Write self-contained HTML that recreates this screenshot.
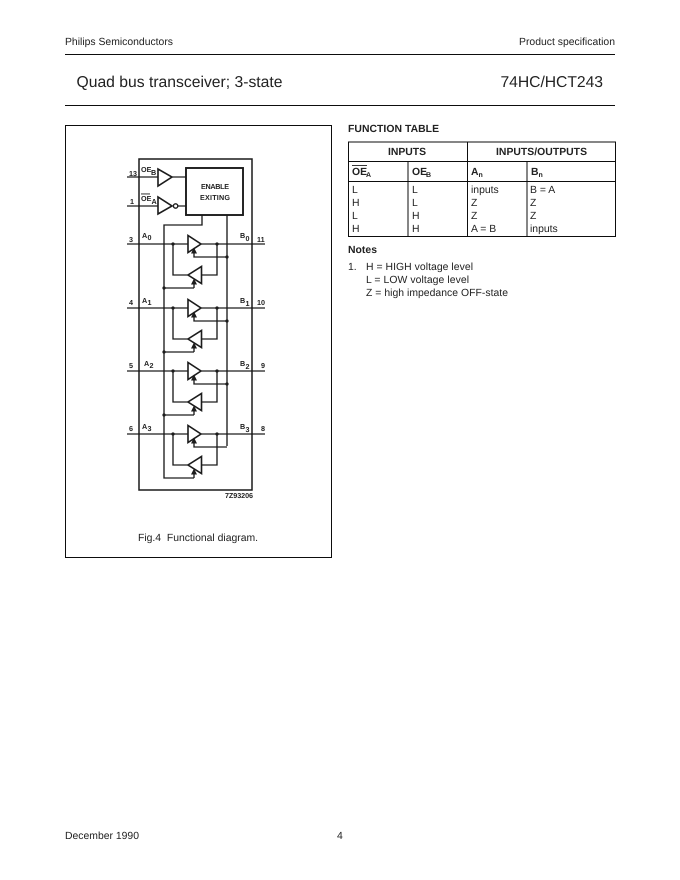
<!DOCTYPE html>
<html>
<head>
<meta charset="utf-8">
<style>
html,body{margin:0;padding:0;background:#fff}
svg{display:block}
text{font-family:"Liberation Sans",sans-serif;fill:#222;text-rendering:geometricPrecision}
.s{font-size:10.4px}
.b{font-size:10.4px;font-weight:bold}
.d{font-size:7.2px;font-weight:bold;fill:#222}
.sub{font-size:7px;font-weight:bold}
</style>
</head>
<body>
<svg width="680" height="880" viewBox="0 0 680 880" xmlns="http://www.w3.org/2000/svg">
<defs>
<filter id="bl" x="-5%" y="-5%" width="110%" height="110%"><feGaussianBlur stdDeviation="0.35"/></filter>
<filter id="soft" x="0" y="0" width="100%" height="100%"><feGaussianBlur stdDeviation="0.2"/></filter>
<g id="ch" fill="none" stroke="#1a1a1a" stroke-width="1.35">
  <polygon points="188,-8.5 188,8.5 201,0" stroke-width="1.6" fill="#fff"/>
  <polygon points="201.5,22.5 201.5,39.5 188,31" stroke-width="1.6" fill="#fff"/>
  <path d="M173,0V31H188M201.5,31H217V0"/>
  <path d="M227,13H194V8"/>
  <polygon points="194,3.5 191,9.5 197,9.5" fill="#1a1a1a" stroke="none"/>
  <path d="M194,44V39"/>
  <polygon points="194,34.5 191,40.5 197,40.5" fill="#1a1a1a" stroke="none"/>
  <circle cx="173" cy="0" r="1.6" fill="#1a1a1a" stroke="none"/>
  <circle cx="217" cy="0" r="1.6" fill="#1a1a1a" stroke="none"/>
</g>
</defs>

<g filter="url(#soft)">
<!-- page header -->
<text class="s" x="65" y="45" textLength="108">Philips Semiconductors</text>
<text class="s" x="519" y="45" textLength="96">Product specification</text>
<rect x="65" y="54" width="550" height="1" fill="#111"/>
<text x="76.5" y="87" font-size="15.7" textLength="206">Quad bus transceiver; 3-state</text>
<text x="500.5" y="87" font-size="15.7" textLength="102.5">74HC/HCT243</text>
<rect x="65" y="105" width="550" height="1" fill="#111"/>

<!-- figure frame -->
<rect x="65.5" y="125.5" width="266" height="432" fill="none" stroke="#111" stroke-width="1"/>
<text class="s" x="138" y="541" textLength="120">Fig.4&#160;&#160;Functional diagram.</text>

<!-- function table -->
<text class="b" x="348" y="132" textLength="91">FUNCTION TABLE</text>
<g fill="none" stroke="#111" stroke-width="1">
  <rect x="348.5" y="142" width="267" height="94.5"/>
  <path d="M348,161.5H616M348,181.5H616"/>
  <path d="M467.5,142V237M408,161V237M527,161V237"/>
</g>
<text class="b" x="388" y="155" textLength="38">INPUTS</text>
<text class="b" x="496" y="155" textLength="91">INPUTS/OUTPUTS</text>

<text class="b" x="352" y="175">OE</text><text class="sub" x="366" y="177">A</text>
<rect x="352" y="165" width="15" height="0.9" fill="#222"/>
<text class="b" x="412" y="175">OE</text><text class="sub" x="426" y="177">B</text>
<text class="b" x="471" y="175">A</text><text class="sub" x="478.5" y="177">n</text>
<text class="b" x="531" y="175">B</text><text class="sub" x="538.5" y="177">n</text>

<text class="s" x="352" y="193">L</text><text class="s" x="352" y="206">H</text><text class="s" x="352" y="219">L</text><text class="s" x="352" y="232">H</text>
<text class="s" x="412" y="193">L</text><text class="s" x="412" y="206">L</text><text class="s" x="412" y="219">H</text><text class="s" x="412" y="232">H</text>
<text class="s" x="471" y="193">inputs</text><text class="s" x="471" y="206">Z</text><text class="s" x="471" y="219">Z</text><text class="s" x="471" y="232">A = B</text>
<text class="s" x="530" y="193">B = A</text><text class="s" x="530" y="206">Z</text><text class="s" x="530" y="219">Z</text><text class="s" x="530" y="232">inputs</text>

<!-- notes -->
<text class="b" x="348" y="253" textLength="29">Notes</text>
<text class="s" x="348" y="270">1.</text>
<text class="s" x="366" y="270" textLength="107">H = HIGH voltage level</text>
<text class="s" x="366" y="283" textLength="103">L = LOW voltage level</text>
<text class="s" x="366" y="296" textLength="142">Z = high impedance OFF-state</text>

<!-- footer -->
<text class="s" x="65" y="839" textLength="74">December 1990</text>
<text class="s" x="337" y="839">4</text>
</g>

<!-- diagram -->
<g filter="url(#bl)">
  <g fill="none" stroke="#1a1a1a" stroke-width="1.35">
    <rect x="139" y="159" width="113" height="331" stroke-width="1.5"/>
    <path d="M127,177H158M172,177H186"/>
    <path d="M127,206H158M178,206H186"/>
    <polygon points="158,169 158,186 172,177" stroke-width="1.6" fill="#fff"/>
    <polygon points="158,197 158,214 172,206" stroke-width="1.6" fill="#fff"/>
    <circle cx="175.6" cy="206" r="2.2" stroke-width="1.4" fill="#fff"/>
    <rect x="186" y="168" width="57" height="47" stroke-width="1.9" fill="#fff"/>
    <path d="M202,215V225H164V478H194"/>
    <path d="M227,215V446"/>
    <path d="M127,244H265M127,308H265M127,371H265M127,434H265"/>
    <path d="M164,288H194M164,352H194M164,415H194"/>
  </g>
  <use href="#ch" x="0" y="244"/>
  <use href="#ch" x="0" y="308"/>
  <use href="#ch" x="0" y="371"/>
  <use href="#ch" x="0" y="434"/>
  <circle cx="164" cy="288" r="1.6" fill="#1a1a1a"/>
  <circle cx="164" cy="352" r="1.6" fill="#1a1a1a"/>
  <circle cx="164" cy="415" r="1.6" fill="#1a1a1a"/>
  <circle cx="227" cy="257" r="1.6" fill="#1a1a1a"/>
  <circle cx="227" cy="321" r="1.6" fill="#1a1a1a"/>
  <circle cx="227" cy="384" r="1.6" fill="#1a1a1a"/>

  <text class="d" x="129" y="176">13</text>
  <text class="d" x="141" y="172">OE</text><text class="d" x="151" y="175">B</text>
  <text class="d" x="130" y="204">1</text>
  <text class="d" x="141" y="201">OE</text><text class="d" x="151.5" y="204">A</text>
  <rect x="141" y="193.5" width="9" height="0.9" fill="#1a1a1a"/>
  <text class="d" x="201" y="189" textLength="28">ENABLE</text>
  <text class="d" x="200" y="200" textLength="30">EXITING</text>

  <text class="d" x="129" y="242">3</text>
  <text class="d" x="142" y="238">A</text><text class="d" x="147.5" y="240">0</text>
  <text class="d" x="240" y="238">B</text><text class="d" x="245.5" y="241">0</text>
  <text class="d" x="257" y="242">11</text>

  <text class="d" x="129" y="305">4</text>
  <text class="d" x="142" y="303">A</text><text class="d" x="147.5" y="305">1</text>
  <text class="d" x="240" y="303">B</text><text class="d" x="245.5" y="306">1</text>
  <text class="d" x="257" y="305">10</text>

  <text class="d" x="129" y="368">5</text>
  <text class="d" x="144" y="366">A</text><text class="d" x="149.5" y="368">2</text>
  <text class="d" x="240" y="366">B</text><text class="d" x="245.5" y="369">2</text>
  <text class="d" x="261" y="368">9</text>

  <text class="d" x="129" y="431">6</text>
  <text class="d" x="142" y="429">A</text><text class="d" x="147.5" y="431">3</text>
  <text class="d" x="240" y="429">B</text><text class="d" x="245.5" y="432">3</text>
  <text class="d" x="261" y="431">8</text>

  <text class="d" x="225" y="498" textLength="28">7Z93206</text>
</g>
</svg>
</body>
</html>
